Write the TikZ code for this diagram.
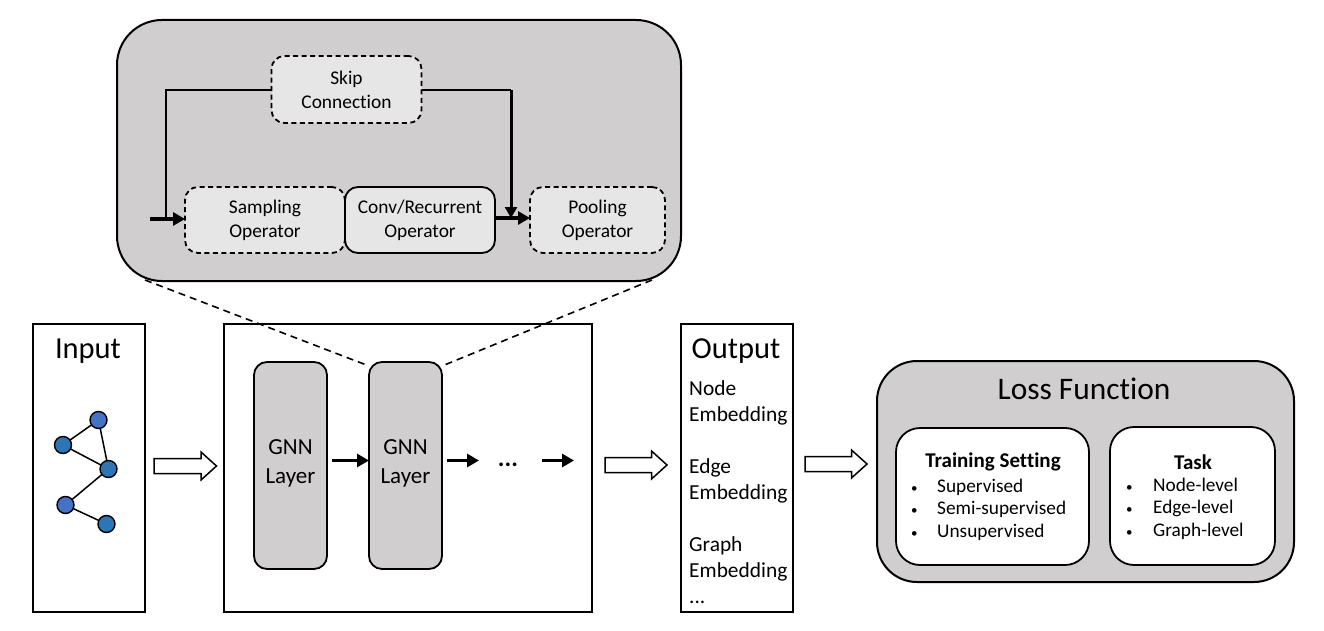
\documentclass[tikz,border=0pt]{standalone}
\usepackage{fontspec}
\setmainfont[Ligatures=NoCommon]{Carlito}
\usetikzlibrary{arrows.meta,calc}
\definecolor{panelgray}{HTML}{D0CECE}
\definecolor{innergray}{HTML}{E7E6E6}
\definecolor{nodeblueA}{HTML}{4472C4}
\definecolor{nodeblueB}{HTML}{2E75B6}
\newcommand{\fsz}[2]{\fontsize{#1}{#2}\selectfont}
\newcommand{\smallbul}{{\fontsize{13}{13}\selectfont •}}
% hollow block arrow: left x, right x, centre y
\newcommand{\hollowarrow}[3]{%
  \draw[line width=1.5pt,fill=white,line join=miter]
    (#1,#3-7.5) -- (#2-15.5,#3-7.5) -- (#2-15.5,#3-14) -- (#2,#3)
    -- (#2-15.5,#3+14) -- (#2-15.5,#3+7.5) -- (#1,#3+7.5) -- cycle;}
\tikzset{
  x=1pt,y=-1pt,
  box/.style 2 args={minimum width=#1pt,minimum height=#2pt,inner sep=0pt,outer sep=0pt,align=center,text=black},
  plainbox/.style={draw=black,line width=2pt,fill=white},
  panel/.style={draw=black,line width=2pt,fill=panelgray,rounded corners=#1pt},
  opsolid/.style={draw=black,line width=1.8pt,fill=innergray,rounded corners=13pt},
  opdash/.style={draw=black,line width=1.8pt,fill=innergray,rounded corners=13pt,dash pattern=on 5pt off 3.5pt},
  whitebox/.style={draw=black,line width=1.8pt,fill=white,rounded corners=24pt},
  gnn/.style={draw=black,line width=1.8pt,fill=panelgray,rounded corners=13pt},
  opfont/.style={font=\fsz{19.4}{24}},
  gnnfont/.style={font=\fsz{23}{29},align=center},
  titlefont/.style={font=\fsz{30.5}{32}},
  itemfont/.style={font=\fsz{19.3}{22.5}},
  gnode/.style={circle,draw=black,line width=1.4pt,minimum size=17pt,inner sep=0pt,outer sep=0pt},
  gedge/.style={line width=1.5pt},
  thick arrow/.style={line width=3.5pt,-{Triangle[length=12pt,width=13pt]}},
  zoomline/.style={line width=1.6pt,dash pattern=on 7pt off 5pt},
}
\begin{document}
\begin{tikzpicture}
\useasboundingbox (0,0) rectangle (1324,631);
% boxes of the lower row
\node[box={112}{288},plainbox] (input) at (89,468) {};
\node[box={368}{288},plainbox] (middle) at (407.5,468) {};
\node[box={112}{288},plainbox] (output) at (737,468) {};
\node[titlefont] (inputT) at (88,351) {Input};
\node[titlefont] (outputT) at (736,351) {Output};
% upper panel
\node[box={564}{261},panel=45] (detail) at (399,150.5) {};
\node[box={150}{67},opdash,opfont] (skip) at (346.5,89.5) {Skip\\Connection};
\node[box={160}{66},opdash,opfont] (sampling) at (265,220) {Sampling\\Operator};
\node[box={150}{66},opsolid,opfont] (conv) at (420,220) {Conv/Recurrent\\Operator};
\node[box={135}{66},opdash,opfont] (pooling) at (597.5,220) {Pooling\\Operator};
\coordinate (inL) at (150,219);
\coordinate (bendL) at (166,90);
\coordinate (bendR) at (511,90);
\coordinate (joinL) at (166,219);
\coordinate (joinR) at (511,218);
\draw[line width=1.8pt] (skip.west |- bendL) -- (bendL) -- (joinL);
\draw[line width=1.8pt] (skip.east |- bendR) -- (bendR);
\draw[line width=3pt,-{Triangle[length=11pt,width=12pt]}] (bendR) -- (joinR);
\draw[thick arrow] (inL) -- (sampling.west |- inL);
\draw[thick arrow] (conv.east |- joinR) -- (pooling.west |- joinR);
% GNN layers
\node[box={73}{207},gnn] (gnnA) at (290.5,465.5) {};
\node[box={73}{207},gnn] (gnnB) at (405.5,465.5) {};
\node[gnnfont] (gnnAt) at (290.5,463.5) {GNN\\Layer};
\node[gnnfont] (gnnBt) at (405.5,463.5) {GNN\\Layer};
\coordinate (dashL) at (145,280);
\coordinate (dashR) at (652,280);
\draw[zoomline] (dashL) -- ($(gnnB.north west)+(0,4)$);
\draw[zoomline] (dashR) -- ($(gnnB.north east)+(0,4)$);
\coordinate (arrA) at (447,460.5);
\coordinate (arrB) at (479,460.5);
\coordinate (arrC) at (542,460.5);
\coordinate (arrD) at (574,460.5);
\draw[thick arrow] (gnnA.east |- arrA) ++(5,0) -- (gnnB.west |- arrA);
\draw[thick arrow] (arrA) -- (arrB);
\draw[thick arrow] (arrC) -- (arrD);
\node[font=\fsz{25}{24}\bfseries] (dots) at (508,465) {...};
% sample graph
\node[gnode,fill=nodeblueA] (g1) at (98.5,420) {};
\node[gnode,fill=nodeblueB] (g2) at (63,445) {};
\node[gnode,fill=nodeblueB] (g3) at (108.5,469) {};
\node[gnode,fill=nodeblueA] (g4) at (65.5,505) {};
\node[gnode,fill=nodeblueB] (g5) at (106.5,524) {};
\draw[gedge] (g1) -- (g2);
\draw[gedge] (g1) -- (g3);
\draw[gedge] (g2) -- (g3);
\draw[gedge] (g3) -- (g4);
\draw[gedge] (g4) -- (g5);
% output list
\node[anchor=north west,inner sep=0pt,align=left,font=\fsz{21.4}{26}] (outlist) at (689,380)
  {Node\\Embedding\\[26pt]Edge\\Embedding\\[26pt]Graph\\Embedding\\...};
% loss
\node[box={417}{221},panel=40] (loss) at (1085.5,471.5) {};
\node[font=\fsz{31.4}{32}] (lossT) at (1084,389) {Loss Function};
\node[box={193}{137},whitebox] (train) at (992.5,496.5) {};
\node[box={165}{138},whitebox] (task) at (1192.5,496) {};
\node[font=\fsz{21}{22}\bfseries] (trainT) at (993,462) {Training Setting};
\node[font=\fsz{21}{22}\bfseries] (taskT) at (1193,462) {Task};
\node[anchor=west,inner sep=0pt,align=left,itemfont] (trainL) at (911,509.5)
  {\makebox[26pt][l]{\smallbul}Supervised\\\makebox[26pt][l]{\smallbul}Semi-supervised\\\makebox[26pt][l]{\smallbul}Unsupervised};
\node[anchor=west,inner sep=0pt,align=left,itemfont] (taskL) at (1126,508.5)
  {\makebox[27pt][l]{\smallbul}Node-level\\\makebox[27pt][l]{\smallbul}Edge-level\\\makebox[27pt][l]{\smallbul}Graph-level};
% hollow arrows
\hollowarrow{154}{216.5}{466}
\hollowarrow{605}{667}{465}
\hollowarrow{805}{867}{464}
\end{tikzpicture}
\end{document}
